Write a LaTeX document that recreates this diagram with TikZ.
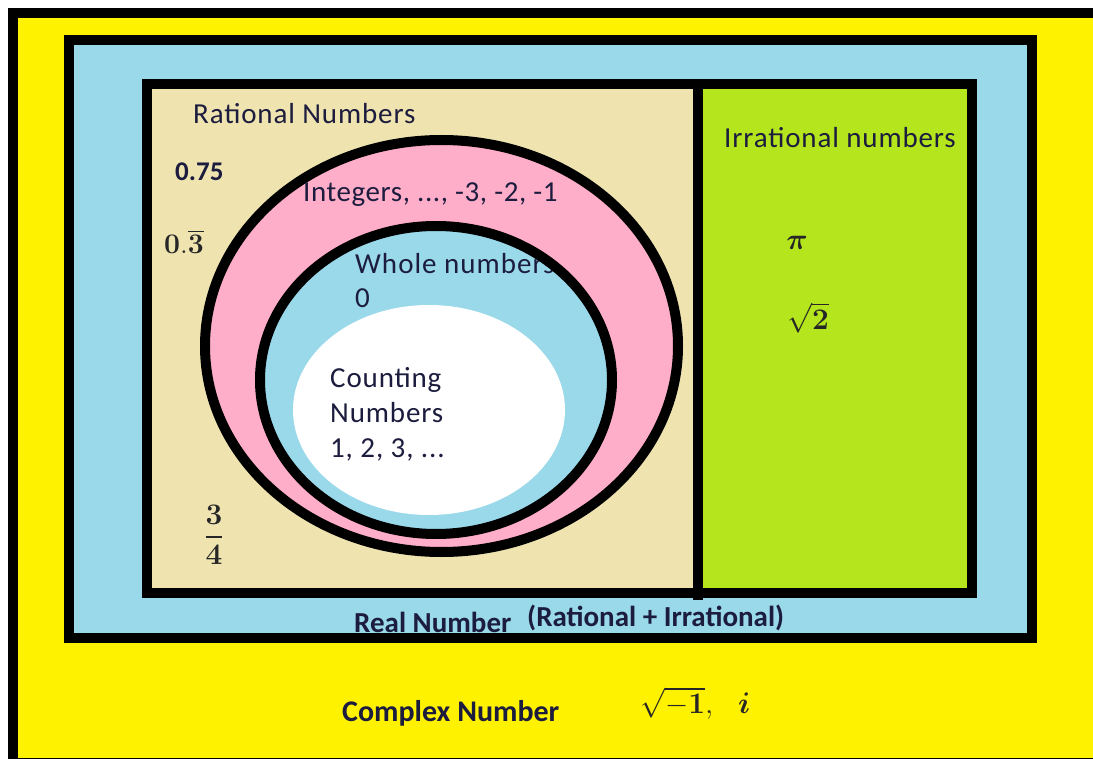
\documentclass[tikz,border=0pt]{standalone}
\usepackage[no-math]{fontspec}
\setmainfont{Carlito}
\usepackage{amsmath,amssymb}
\definecolor{yel}{RGB}{255,242,0}
\definecolor{ltblue}{RGB}{153,217,234}
\definecolor{tan}{RGB}{239,228,176}
\definecolor{lime}{RGB}{181,230,29}
\definecolor{rose}{RGB}{255,174,201}
\definecolor{txt}{RGB}{28,28,62}
\tikzset{
  lbl/.style={text=txt, inner sep=0pt, font=\fontsize{29}{34}\selectfont\addfontfeature{LetterSpace=3}},
  blbl/.style={text=txt, inner sep=0pt, font=\fontsize{29}{34}\selectfont\bfseries},
  mlbl/.style={text=black!85, inner sep=0pt, font=\fontsize{24.88}{30}\selectfont, scale=1.2},
  frame/.style={draw=black, line width=10pt}
}
\begin{document}
\begin{tikzpicture}[x=1pt,y=-1pt]
\useasboundingbox (0,0) rectangle (1093,759);
\clip (0,0) rectangle (1093,759);
\fill[white] (0,0) rectangle (1093,759);
% outer complex frame
\draw[frame, fill=yel] (13,13) rectangle (1105,763);
% real numbers frame
\draw[frame, fill=ltblue] (69,40) rectangle (1032,638);
% rational / irrational frame
\fill[tan] (147,84) rectangle (698,593);
\fill[lime] (698,84) rectangle (972,593);
\draw[frame] (147,84) rectangle (972,593);
\draw[line width=10pt] (698,84) -- (698,600);
% ellipses
\draw[line width=10pt, fill=rose] (441.5,346) ellipse [x radius=236.5, y radius=206];
\fill[ltblue] (436,380) ellipse [x radius=176, y radius=154];
\fill[white] (429,410) ellipse [x radius=136, y radius=105];
% texts
\node[lbl, anchor=west] (rat) at (193,114) {Rational Numbers};
\node[blbl, anchor=west, font=\fontsize{27}{30}\selectfont\bfseries] (d75) at (175,172) {0.75};
\node[mlbl, anchor=west, scale=0.95] (d3) at (164,242) {$\mathbf{0.}\overline{\mathbf{3}}$};
\node[mlbl] (frac) at (214,535) {$\dfrac{\mathbf{3}}{\mathbf{4}}$};
\node[lbl, anchor=west, font=\fontsize{29}{34}\selectfont\addfontfeature{LetterSpace=2}] (int) at (303,195) {Integers, ..., -3, -2, -1};
\node[lbl, anchor=west, font=\fontsize{29}{34}\selectfont\addfontfeature{LetterSpace=3.5}] (whole) at (355,264) {Whole numbers};
\node[lbl, anchor=west] (zero) at (355,298) {0};
\node[lbl, anchor=west, align=left, font=\fontsize{29}{35}\selectfont\addfontfeature{LetterSpace=3}] (count) at (330,414) {Counting\\Numbers\\1, 2, 3, ...};
\node[lbl, anchor=west] (irr) at (724,138) {Irrational numbers};
\node[mlbl] (pi) at (797,243) {$\boldsymbol{\pi}$};
\node[mlbl] (sq2) at (808,318) {$\sqrt{\mathbf{2}}$};
\node[blbl, anchor=west] (real) at (354,622) {Real Number};
\node[blbl, anchor=west] (ratirr) at (527,618) {(Rational + Irrational)};
\node[blbl, anchor=west, font=\fontsize{30}{34}\selectfont\bfseries] (cplx) at (342,713) {Complex Number};
\node[mlbl, anchor=west] (sqm1) at (640,703) {$\sqrt{\mathbf{-1}}\mathbf{,}\;\;\; \boldsymbol{i}$};
% whole-number ring drawn over its label, as in the reference
\draw[line width=10pt] (436,380) ellipse [x radius=176, y radius=154];
\end{tikzpicture}
\end{document}
